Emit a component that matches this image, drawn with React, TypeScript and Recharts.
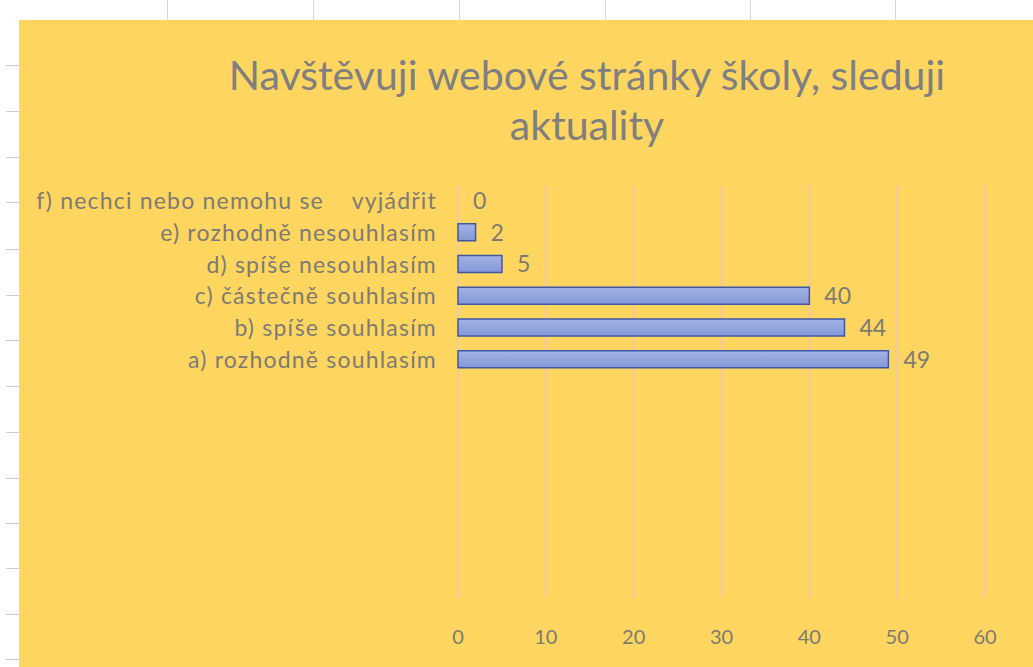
import React from "react";
import { BarChart, Bar, XAxis, YAxis, CartesianGrid, LabelList, Rectangle } from "recharts";

const categories = [
  "f) nechci nebo nemohu se    vyjádřit",
  "e) rozhodně nesouhlasím",
  "d) spíše nesouhlasím",
  "c) částečně souhlasím",
  "b) spíše souhlasím",
  "a) rozhodně souhlasím",
];
const values = [0, 2, 5, 40, 44, 49];
const emptySlots = ["", "", "", "", "", "", ""];
const xTicks = [0, 10, 20, 30, 40, 50, 60];
const titleLines = ["Navštěvuji webové stránky školy, sleduji", "aktuality"];

const data = [
  ...categories.map((c, i) => ({ key: `c${i}`, label: c, value: values[i] as number | null })),
  ...emptySlots.map((c, i) => ({ key: `e${i}`, label: c, value: null as number | null })),
];
const labelByKey: Record<string, string> = {};
data.forEach((d) => (labelByKey[d.key] = d.label));

const sheetCols = [167, 313, 459, 605, 750, 895];
const sheetRows = [65, 111, 157, 202, 249, 295, 340, 386, 432, 478, 523, 568, 614, 659];

const FONT = "Lato, 'Open Sans', sans-serif";
const GRAY = "#7d7b72";

const ValueLabel = (props: any) => {
  const { x, y, width, height, value } = props;
  if (value === null || value === undefined) return null;
  const w = Number(width || 0) < 1 ? 0 : Number(width);
  return (
    <text
      x={Number(x) + w + 15}
      y={Number(y) + Number(height) / 2}
      dy="0.36em"
      fill={GRAY}
      fontSize={23}
      fontFamily={FONT}
    >
      {value}
    </text>
  );
};

const BarShape = (props: any) => {
  if (!props.width || props.width < 1) return null;
  return <Rectangle {...props} />;
};

export default function App() {
  return (
    <div style={{ position: "absolute", left: 0, top: 0, width: 1033, height: 667, background: "#fff", overflow: "hidden" }}>
      {sheetCols.map((x) => (
        <div key={`c${x}`} style={{ position: "absolute", left: x, top: 0, width: 1, height: 20, background: "#d9d9d9" }} />
      ))}
      {sheetRows.map((y) => (
        <div key={`r${y}`} style={{ position: "absolute", left: 6, top: y, width: 13, height: 1, background: "#c9cde0" }} />
      ))}
      <div style={{ position: "absolute", left: 19, top: 20, width: 1014, height: 647, background: "#FDD55F" }}>
        <BarChart
          width={1014}
          height={647}
          data={data}
          layout="vertical"
          margin={{ top: 165, right: 48, bottom: 0, left: 0 }}
          barCategoryGap={0}
        >
          <defs>
            <linearGradient id="barFill" x1="0" y1="0" x2="0" y2="1">
              <stop offset="0%" stopColor="#a3b3e6" />
              <stop offset="100%" stopColor="#8597d6" />
            </linearGradient>
          </defs>
          <CartesianGrid horizontal={false} stroke="#F3C8A6" strokeWidth={2} />
          <XAxis
            type="number"
            domain={[0, 60]}
            ticks={xTicks}
            axisLine={false}
            tickLine={false}
            tickSize={0}
            tickMargin={32}
            height={69}
            tick={{ fill: GRAY, fontSize: 20, fontFamily: FONT }}
            interval={0}
          />
          <YAxis
            type="category"
            dataKey="key"
            width={439}
            axisLine={false}
            tickLine={false}
            tickSize={0}
            tickMargin={21}
            interval={0}
            tickFormatter={(k: string) => (labelByKey[k] ?? "").replace(/ {2,}/g, (m) => "\u00a0".repeat(m.length))}
            tick={{ fill: GRAY, fontSize: 23, fontFamily: FONT, letterSpacing: 1.2 }}
          />
          <Bar
            dataKey="value"
            barSize={17}
            minPointSize={0.5}
            shape={BarShape}
            fill="url(#barFill)"
            stroke="#3F58A6"
            strokeWidth={1.5}
            isAnimationActive={false}
          >
            <LabelList dataKey="value" content={ValueLabel} />
          </Bar>
        </BarChart>
      </div>
      <div
        style={{
          position: "absolute",
          left: 19,
          top: 50,
          width: 1136,
          textAlign: "center",
          fontFamily: FONT,
          fontSize: 41,
          color: "#7f7f7f",
          lineHeight: "50px",
        }}
      >
        {titleLines.map((t) => (
          <div key={t}>{t}</div>
        ))}
      </div>
    </div>
  );
}
